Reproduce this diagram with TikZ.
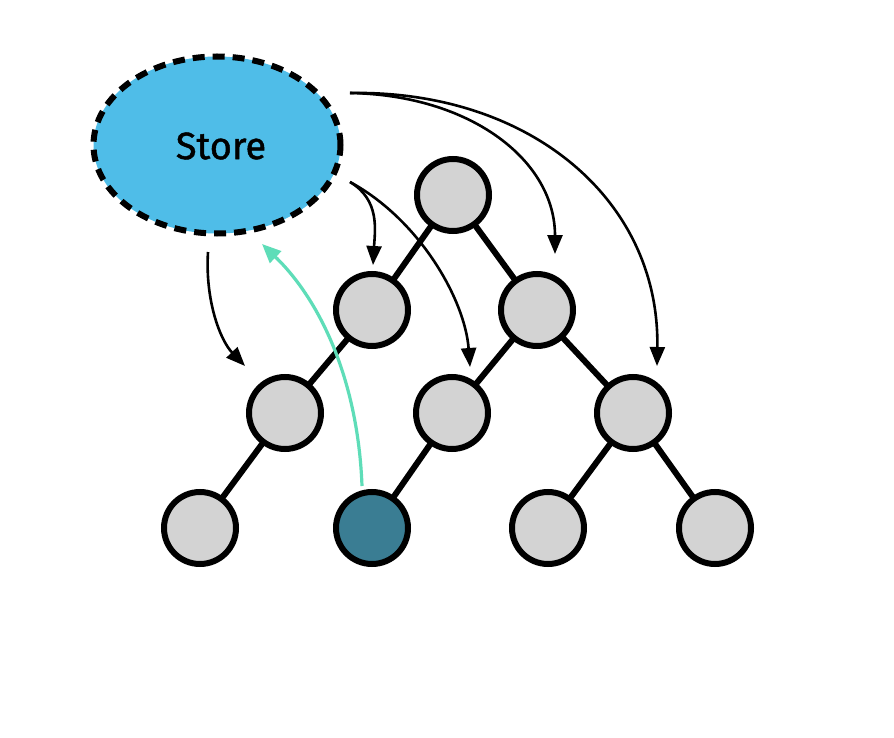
\documentclass[tikz,border=0pt]{standalone}
\usepackage{fontspec}
\setmainfont{Fira Sans}
\usetikzlibrary{arrows.meta,shapes.geometric,backgrounds}
\definecolor{storeblue}{HTML}{4FBDE8}
\definecolor{nodegray}{HTML}{D3D3D3}
\definecolor{darkteal}{HTML}{3A7D93}
\definecolor{mint}{HTML}{5EDDB8}
\tikzset{
  tnode/.style={circle, draw=black, line width=6pt, fill=nodegray, minimum size=72pt, inner sep=0pt},
  tedge/.style={line width=6pt},
  sarrow/.style={line width=2.6pt, -{Triangle[length=19pt,width=15pt]}},
}
\begin{document}
\begin{tikzpicture}[x=1pt,y=-1pt]
\useasboundingbox (0,0) rectangle (894,738);
% store
\node[ellipse, draw=black, line width=6pt, dash pattern=on 12pt off 8pt, fill=storeblue,
      minimum width=247pt, minimum height=177pt, inner sep=0pt] (store) at (217,145) {};
\node[font=\addfontfeatures{FakeBold=1.2}\fontsize{38}{42}\selectfont] (storelabel) at (221,146) {Store};
% tree nodes
\node[tnode] (r) at (453,195) {};
\node[tnode] (a) at (372,310) {};
\node[tnode] (b) at (537,310) {};
\node[tnode] (c) at (285,413) {};
\node[tnode] (d) at (452,413) {};
\node[tnode] (e) at (633,413) {};
\node[tnode] (f) at (200,528) {};
\node[tnode, fill=darkteal] (g) at (372,528) {};
\node[tnode] (h) at (548,528) {};
\node[tnode] (i) at (715,528) {};
% edges
\begin{scope}[on background layer]
\fill[white] (0,0) rectangle (894,738);
\foreach \u/\v in {r/a,r/b,a/c,b/d,b/e,c/f,d/g,e/h,e/i}
  \draw[tedge] (\u.center) -- (\v.center);
\end{scope}
% arrows
\coordinate (s1) at (350,93);
\coordinate (s2) at (350,182);
\coordinate (s3) at (208,252);
\coordinate (t1) at (555,254);
\coordinate (t2) at (657,366);
\coordinate (t3) at (373,265);
\coordinate (t4) at (470,367);
\coordinate (t5) at (245,366);
\draw[sarrow] (s1) .. controls (470,95) and (555,160) .. (t1);
\draw[sarrow] (s1) .. controls (530,90) and (660,200) .. (t2);
\draw[sarrow] (s2) .. controls (380,200) and (375,230) .. (t3);
\draw[sarrow] (s2) .. controls (420,220) and (465,300) .. (t4);
\draw[sarrow] (s3) .. controls (205,300) and (220,340) .. (t5);
\coordinate (m1) at (362,486);
\coordinate (m2) at (262,244);
\draw[line width=3.2pt, mint, -{Triangle[length=19pt,width=16pt]}] (m1) .. controls (358,380) and (320,300) .. (m2);
\end{tikzpicture}
\end{document}
